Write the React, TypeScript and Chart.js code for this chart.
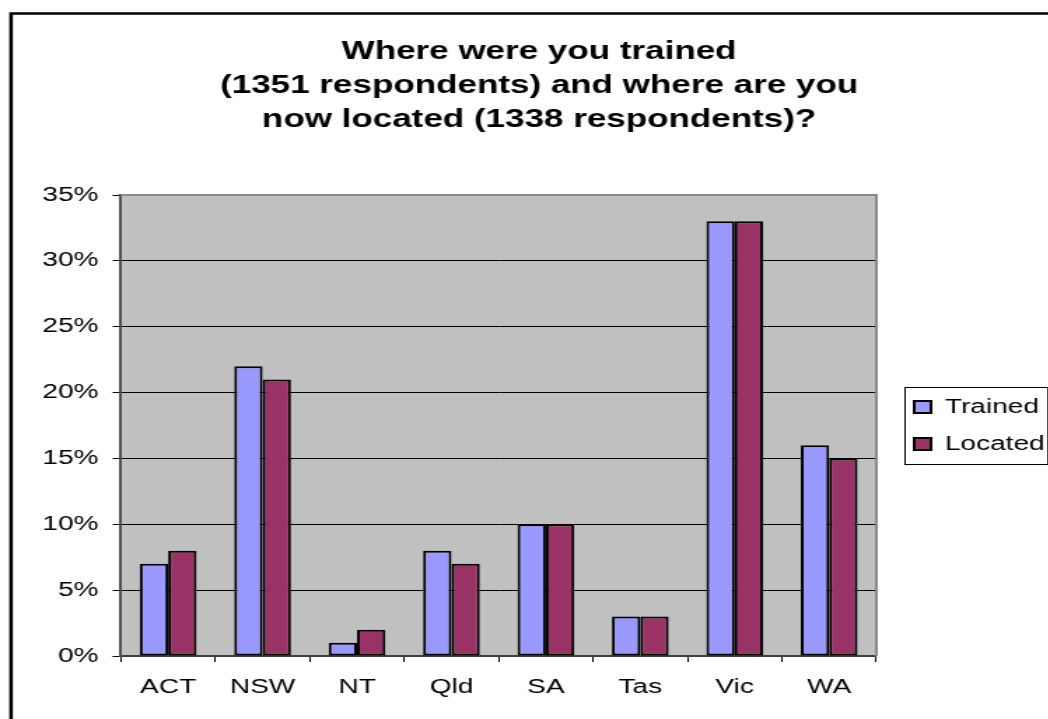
import React, { useEffect, useRef } from 'react';
import { Chart, registerables } from 'chart.js';

Chart.register(...registerables);

// ---- data ----
const categories = ['ACT', 'NSW', 'NT', 'Qld', 'SA', 'Tas', 'Vic', 'WA'];
const trained = [7, 22, 1, 8, 10, 3, 33, 16];
const located = [8, 21, 2, 7, 10, 3, 33, 15];
const yTickValues = [0, 5, 10, 15, 20, 25, 30, 35];
const titleLines = [
  'Where were you trained',
  '(1351 respondents) and where are you',
  'now located (1338 respondents)?',
];
const seriesNames = ['Trained', 'Located'];

// ---- layout (the reference is horizontally stretched) ----
const SX = 1.4;
const CW = 770;
const CH = 719;
const FONT = '"Liberation Sans", Arial, sans-serif';

const framePlugin = {
  id: 'frame',
  beforeDraw(chart: any) {
    const { ctx, chartArea: a } = chart;
    ctx.save();
    ctx.fillStyle = '#ffffff';
    ctx.fillRect(0, 0, chart.width, chart.height);
    ctx.fillStyle = '#C0C0C0';
    ctx.fillRect(a.left, a.top, a.right - a.left, a.bottom - a.top);
    ctx.strokeStyle = '#000000';
    ctx.lineWidth = 2.5;
    ctx.strokeRect(7.9, 13.5, 3000, 3000);
    ctx.restore();
  },
  afterDatasetsDraw(chart: any) {
    const { ctx, chartArea: a } = chart;
    ctx.save();
    ctx.strokeStyle = '#8a8a8a';
    ctx.lineWidth = 2;
    ctx.beginPath();
    ctx.moveTo(a.left, a.top);
    ctx.lineTo(a.right, a.top);
    ctx.lineTo(a.right, a.bottom);
    ctx.stroke();
    ctx.restore();
  },
  afterDraw(chart: any) {
    const lg = chart.legend;
    if (!lg || !lg.legendHitBoxes || lg.legendHitBoxes.length < 2) return;
    const h0 = lg.legendHitBoxes[0];
    const h1 = lg.legendHitBoxes[lg.legendHitBoxes.length - 1];
    const { ctx } = chart;
    ctx.save();
    ctx.strokeStyle = '#000000';
    ctx.lineWidth = 1;
    const left = h0.left - 7;
    const top = h0.top - 10;
    const right = left + 102;
    const bottom = h1.top + h1.height + 10;
    ctx.strokeRect(Math.round(left) + 0.5, Math.round(top) + 0.5, Math.round(right - left), Math.round(bottom - top));
    ctx.restore();
  },
};

export default function App() {
  const ref = useRef<HTMLCanvasElement | null>(null);

  useEffect(() => {
    if (!ref.current) return;
    const chart = new Chart(ref.current, {
      type: 'bar',
      data: {
        labels: categories,
        datasets: [
          {
            label: seriesNames[0],
            data: trained,
            backgroundColor: '#9999FF',
            borderColor: '#000000',
            borderWidth: 2,
            borderSkipped: false,
          },
          {
            label: seriesNames[1],
            data: located,
            backgroundColor: '#993366',
            borderColor: '#000000',
            borderWidth: 2,
            borderSkipped: false,
          },
        ],
      },
      options: {
        responsive: false,
        animation: false,
        devicePixelRatio: 1,
        layout: { padding: { left: 14, right: 13.84, top: 0, bottom: 7 } },
        datasets: { bar: { categoryPercentage: 0.6, barPercentage: 1.0 } },
        plugins: {
          title: {
            display: true,
            text: titleLines,
            color: '#000000',
            font: { family: FONT, size: 25, weight: 'bold', lineHeight: 1.36 },
            padding: { top: 35, bottom: 58 },
          },
          legend: {
            display: true,
            position: 'right',
            align: 'center',
            fullSize: false,
            labels: {
              boxWidth: 12,
              boxHeight: 12,
              padding: 17,
              color: '#000000',
              font: { family: FONT, size: 20 },
            },
          },
          tooltip: { enabled: false },
        },
        scales: {
          x: {
            type: 'category',
            grid: {
              display: true,
              offset: true,
              drawOnChartArea: false,
              drawTicks: true,
              tickLength: 6,
              tickColor: '#000000',
              tickWidth: 1,
            },
            border: { display: true, color: '#404040', width: 2 },
            ticks: { color: '#000000', padding: 13, font: { family: FONT, size: 20 } },
          },
          y: {
            type: 'linear',
            min: 0,
            max: 35,
            afterBuildTicks: (s: any) => {
              s.ticks = yTickValues.map((v) => ({ value: v }));
            },
            afterFit: (s: any) => {
              s.width = 72.4;
            },
            grid: {
              display: true,
              color: (c: any) => (c.tick && c.tick.value === 35 ? 'rgba(0,0,0,0)' : '#000000'),
              lineWidth: 1,
              drawTicks: true,
              tickLength: 6,
              tickColor: '#000000',
              tickWidth: 1,
            },
            border: { display: true, color: '#505050', width: 2 },
            ticks: {
              color: '#000000',
              padding: 10,
              font: { family: FONT, size: 20 },
              callback: (v: any) => `${v}%`,
            },
          },
          gap: {
            type: 'linear',
            position: 'right',
            display: true,
            grid: { display: false, drawTicks: false },
            ticks: { display: false },
            border: { display: false },
            afterFit: (s: any) => {
              s.width = 10;
            },
          },
        },
      },
      plugins: [framePlugin],
    } as any);
    return () => chart.destroy();
  }, []);

  return (
    <div
      style={{
        position: 'absolute',
        left: 0,
        top: 0,
        width: 1048,
        height: 719,
        overflow: 'hidden',
        background: '#ffffff',
      }}
    >
      <canvas
        ref={ref}
        width={CW}
        height={CH}
        style={{ width: `${CW * SX}px`, height: `${CH}px`, display: 'block' }}
      />
    </div>
  );
}
